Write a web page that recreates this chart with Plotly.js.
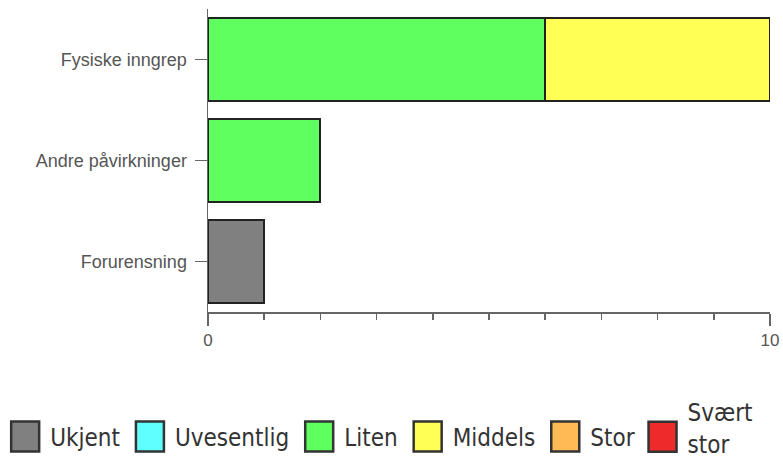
<!DOCTYPE html>
<html>
<head>
<meta charset="utf-8">
<script src="https://cdn.plot.ly/plotly-3.0.1.min.js"></script>
<style>html,body{margin:0;padding:0;background:#fff;}#chart{width:783px;height:461px;}</style>
</head>
<body>
<div id="chart"></div>
<script>
var categories = ["Forurensning", "Andre påvirkninger", "Fysiske inngrep"];
var seriesNames = ["Ukjent", "Uvesentlig", "Liten", "Middels", "Stor", "Svært<br>stor"];
var ukjent     = [1, null, null];
var uvesentlig = [null, null, null];
var liten      = [null, 2, 6];
var middels    = [null, null, 4];
var stor       = [null, null, null];
var svaertStor = [null, null, null];
var seriesValues = [ukjent, uvesentlig, liten, middels, stor, svaertStor];
var seriesColors = ["#808080", "#5fffff", "#5fff5f", "#ffff55", "#ffb955", "#ee2a2a"];
var xTickVals = [0, 10];
var xTickText = ["0", "10"];

var traces = seriesNames.map(function (name, i) {
  return {
    type: "bar",
    orientation: "h",
    name: name,
    y: categories,
    x: seriesValues[i],
    width: 0.83,
    legend: i === seriesNames.length - 1 ? "legend2" : "legend",
    marker: { color: seriesColors[i], line: { color: "#222", width: 2 } },
    hoverinfo: "none"
  };
});

var legendFont = { family: "DejaVu Sans Condensed, DejaVu Sans", size: 24, color: "#333" };

var layout = {
  width: 783, height: 461,
  margin: { l: 208, r: 13, t: 9, b: 149, pad: 0, autoexpand: false },
  barmode: "stack",
  paper_bgcolor: "#fff", plot_bgcolor: "#fff",
  showlegend: true,
  xaxis: {
    range: [0, 10], tickvals: xTickVals, ticktext: xTickText,
    ticks: "outside", ticklen: 12, tickcolor: "#666", tickwidth: 1.5,
    showline: true, linecolor: "#666", linewidth: 1.5,
    showgrid: false, zeroline: false,
    tickfont: { family: "Arial, Liberation Sans", size: 17, color: "#555" },
    minor: { dtick: 1, ticks: "outside", ticklen: 6, tickcolor: "#666", tickwidth: 1.5, showgrid: false }
  },
  yaxis: {
    type: "category", range: [-0.5, 2.5],
    ticks: "outside", ticklen: 12, tickcolor: "#666", tickwidth: 1.5,
    showline: true, linecolor: "#666", linewidth: 1.5,
    showgrid: false, zeroline: false,
    ticklabelstandoff: 4,
    tickfont: { family: "Arial, Liberation Sans", size: 18, color: "#555" }
  },
  legend: {
    orientation: "h", xref: "paper", x: -0.3698, xanchor: "left",
    yref: "paper", y: -0.4125, yanchor: "middle",
    font: legendFont, traceorder: "normal", itemwidth: 40, bgcolor: "rgba(0,0,0,0)"
  },
  legend2: {
    orientation: "h", xref: "paper", x: 0.7643, xanchor: "left",
    yref: "paper", y: -0.3828, yanchor: "middle",
    font: legendFont, itemwidth: 40, bgcolor: "rgba(0,0,0,0)"
  }
};

Plotly.newPlot("chart", traces, layout, { displayModeBar: false, staticPlot: true }).then(function (gd) {
  // enlarge legend swatches to match the reference's big boxes
  var paths = gd.querySelectorAll(".legendpoints path");
  paths.forEach(function (p, i) {
    var last = (i === paths.length - 1);
    p.setAttribute("d", last ? "M14,24H-14V-6H14Z" : "M14,15H-14V-15H14Z");
    p.style.strokeWidth = "2.5px";
    p.style.stroke = "#333";
  });
});
</script>
</body>
</html>
